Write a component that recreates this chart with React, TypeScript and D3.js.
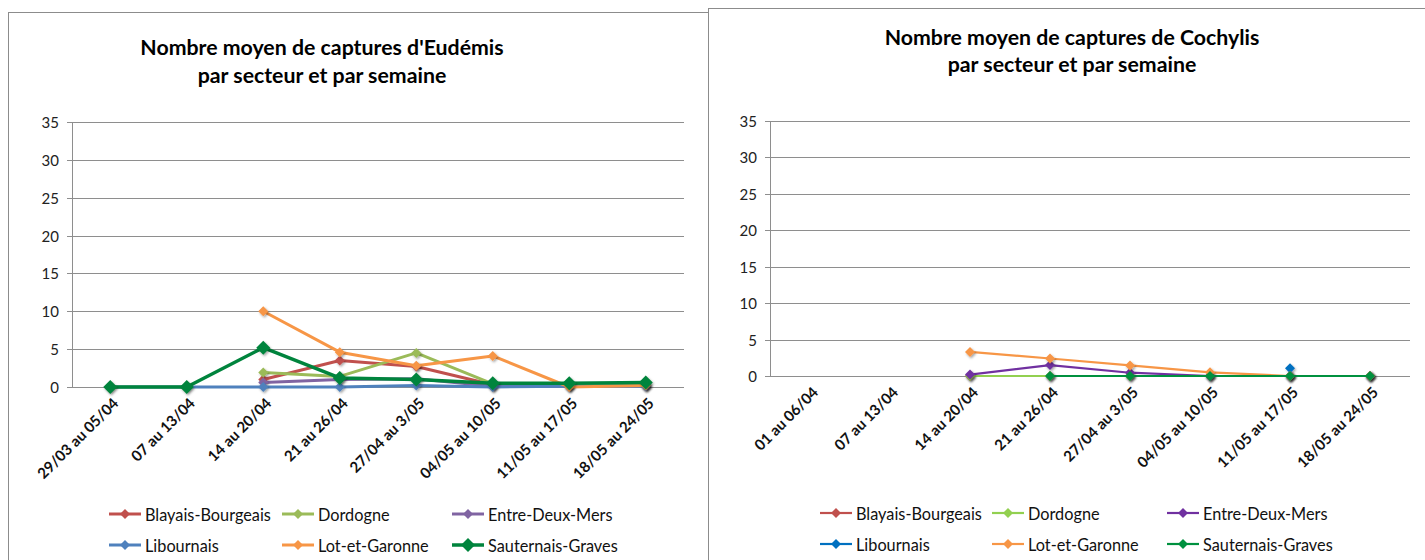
import * as d3 from 'd3'

type Val = number | null

const sectors = ['Blayais-Bourgeais', 'Dordogne', 'Entre-Deux-Mers', 'Libournais', 'Lot-et-Garonne', 'Sauternais-Graves']

const weeksEudemis = ['29/03 au 05/04', '07 au 13/04', '14 au 20/04', '21 au 26/04', '27/04 au 3/05', '04/05 au 10/05', '11/05 au 17/05', '18/05 au 24/05']
const weeksCochylis = ['01 au 06/04', '07 au 13/04', '14 au 20/04', '21 au 26/04', '27/04 au 3/05', '04/05 au 10/05', '11/05 au 17/05', '18/05 au 24/05']

const yTicks = [0, 5, 10, 15, 20, 25, 30, 35]

// Eudémis
const eudBlayais: Val[] = [null, null, 1.0, 3.5, 2.7, 0.3, 0.2, 0.3]
const eudDordogne: Val[] = [null, null, 1.9, 1.4, 4.5, 0.4, 0.3, 0.4]
const eudEntreDeuxMers: Val[] = [null, null, 0.6, 1.0, 1.1, 0.1, 0.1, 0.1]
const eudLibournais: Val[] = [0, 0, 0, 0, 0.2, 0, 0.1, 0.1]
const eudLotEtGaronne: Val[] = [null, null, 10, 4.6, 2.8, 4.1, 0, 0.2]
const eudSauternais: Val[] = [0, 0, 5.2, 1.2, 1.0, 0.5, 0.5, 0.6]

// Cochylis
const cocBlayais: Val[] = [null, null, 0, 0, 0, 0, 0, 0]
const cocDordogne: Val[] = [null, null, 0, 0, 0, 0, 0, 0]
const cocEntreDeuxMers: Val[] = [null, null, 0.2, 1.5, 0.45, 0, 0, 0]
const cocLibournais: Val[] = [null, null, null, null, null, null, 1.05, null]
const cocLotEtGaronne: Val[] = [null, null, 3.3, 2.4, 1.45, 0.5, 0, 0]
const cocSauternais: Val[] = [null, null, null, 0, 0, 0, 0, 0]

const colorsEudemis = ['#C0504D', '#9BBB59', '#8064A2', '#4F81BD', '#F79646', '#00843D']
const colorsCochylis = ['#C0504D', '#92D050', '#7030A0', '#0070C0', '#F79646', '#00913F']

const FONT = "Lato, 'Open Sans', sans-serif"

interface PanelProps {
  frame: { x: number; y: number }
  plot: { x0: number; x1: number; top: number; bottom: number }
  title: [string, string]
  titleX: number
  titleY: [number, number]
  weeks: string[]
  series: Val[][]
  colors: string[]
  lineWidth: number[]
  markerR: number[]
  legendCols: number[]
  legendRows: number[]
}

const diamond = (r: number) => `M0,${-r}L${r},0L0,${r}L${-r},0Z`

function Panel(p: PanelProps) {
  const x = d3.scaleBand<string>().domain(p.weeks).range([p.plot.x0, p.plot.x1])
  const y = d3.scaleLinear().domain([0, 35]).range([p.plot.bottom, p.plot.top])
  const cx = (w: string) => x(w)! + x.bandwidth() / 2

  const line = d3.line<Val>()
    .defined(d => d != null)
    .x((_, i) => cx(p.weeks[i]))
    .y(d => y(d as number))

  return (
    <g>
      <rect x={p.frame.x + 0.5} y={p.frame.y + 0.5} width={760} height={700} fill="#fff" stroke="#8c8c8c" />
      <text x={p.titleX} y={p.titleY[0]} textAnchor="middle" dominantBaseline="central"
        fontFamily={FONT} fontWeight="bold" fontSize={21.3}>{p.title[0]}</text>
      <text x={p.titleX} y={p.titleY[1]} textAnchor="middle" dominantBaseline="central"
        fontFamily={FONT} fontWeight="bold" fontSize={21.3}>{p.title[1]}</text>

      {yTicks.map(t => (
        <g key={t}>
          <line x1={p.plot.x0 - 5} x2={p.plot.x1} y1={Math.round(y(t)) + 0.5} y2={Math.round(y(t)) + 0.5}
            stroke="#8e8e8e" strokeWidth={1} />
          <text x={p.plot.x0 - 13} y={y(t)} textAnchor="end" dominantBaseline="central"
            fontFamily={FONT} fontSize={15} fill="#222">{t}</text>
        </g>
      ))}
      <line x1={p.plot.x0 + 0.5} x2={p.plot.x0 + 0.5} y1={p.plot.top} y2={p.plot.bottom + 0.5} stroke="#8e8e8e" />

      {p.weeks.map(w => (
        <text key={w} transform={`translate(${cx(w) + 5},${p.plot.bottom + 13}) rotate(-45)`}
          textAnchor="end" dominantBaseline="central" fontFamily={FONT} fontWeight="bold" fontSize={15}
          fill="#111">{w}</text>
      ))}

      {p.series.map((s, si) => (
        <g key={si}>
          <path d={line(s) ?? ''} fill="none" stroke={p.colors[si]} strokeWidth={p.lineWidth[si]}
            strokeLinejoin="round" />
          {s.map((v, i) => v == null ? null : (
            <path key={i} d={diamond(p.markerR[si])} transform={`translate(${cx(p.weeks[i])},${y(v)})`}
              fill={p.colors[si]} filter="url(#mshadow)" />
          ))}
        </g>
      ))}

      {sectors.map((name, i) => {
        const lx = p.legendCols[i % 3]
        const ly = p.legendRows[Math.floor(i / 3)]
        return (
          <g key={name}>
            <line x1={lx} x2={lx + 32} y1={ly} y2={ly} stroke={p.colors[i]} strokeWidth={p.lineWidth[i]} />
            <path d={diamond(p.markerR[i])} transform={`translate(${lx + 16},${ly})`} fill={p.colors[i]} />
            <text x={lx + 36} y={ly} dominantBaseline="central" fontFamily={FONT} fontSize={16.3}
              fill="#111">{name}</text>
          </g>
        )
      })}
    </g>
  )
}

export default function App() {
  return (
    <svg width={1425} height={560} style={{ position: 'absolute', left: 0, top: 0, background: '#fff' }}>
      <defs>
        <filter id="mshadow" x="-50%" y="-50%" width="200%" height="200%">
          <feDropShadow dx={1.2} dy={1.5} stdDeviation={1} floodColor="#000" floodOpacity={0.35} />
        </filter>
      </defs>
      <rect width={1425} height={560} fill="#fff" />
      <Panel
        frame={{ x: 8, y: 12 }}
        plot={{ x0: 72, x1: 684, top: 122, bottom: 387 }}
        title={["Nombre moyen de captures d'Eudémis", 'par secteur et par semaine']}
        titleX={322}
        titleY={[47, 75]}
        weeks={weeksEudemis}
        series={[eudBlayais, eudDordogne, eudEntreDeuxMers, eudLibournais, eudLotEtGaronne, eudSauternais]}
        colors={colorsEudemis}
        lineWidth={[3, 3, 3, 3, 3, 3.5]}
        markerR={[5, 5, 5, 5, 5, 7]}
        legendCols={[109, 282, 452]}
        legendRows={[514, 545]}
      />
      <Panel
        frame={{ x: 708, y: 8 }}
        plot={{ x0: 770, x1: 1410, top: 121, bottom: 376 }}
        title={['Nombre moyen de captures de Cochylis', 'par secteur et par semaine']}
        titleX={1072}
        titleY={[37, 64]}
        weeks={weeksCochylis}
        series={[cocBlayais, cocDordogne, cocEntreDeuxMers, cocLibournais, cocLotEtGaronne, cocSauternais]}
        colors={colorsCochylis}
        lineWidth={[2.2, 2.2, 2.2, 2.2, 2.2, 2.2]}
        markerR={[5, 5, 5, 5, 5, 5]}
        legendCols={[820, 992, 1167]}
        legendRows={[513, 544]}
      />
    </svg>
  )
}
